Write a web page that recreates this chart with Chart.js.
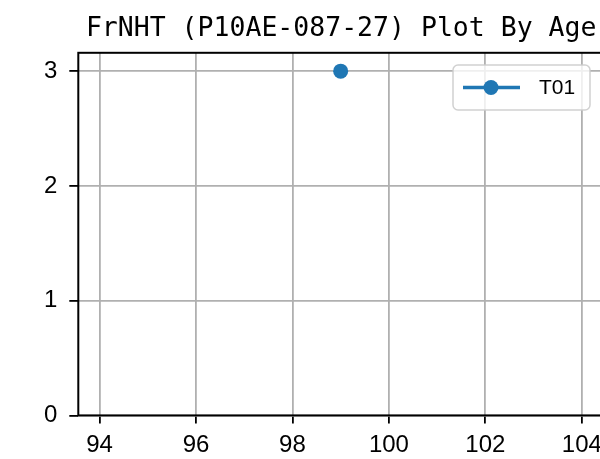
<!DOCTYPE html>
<html>
<head>
<meta charset="utf-8">
<title>FrNHT Plot By Age</title>
<script src="https://cdn.jsdelivr.net/npm/chart.js@4"></script>
<style>
  html, body { margin: 0; padding: 0; background: #fff; overflow: hidden; }
  #wrap { width: 680px; height: 459px; }
</style>
</head>
<body>
<div id="wrap"><canvas id="chart" width="680" height="459"></canvas></div>
<script>
// data
const ages = [99];
const t01Values = [3];
const seriesLabel = "T01";
const xTicks = [94, 96, 98, 100, 102, 104];
const yTicks = [0, 1, 2, 3];
const titleText = "FrNHT (P10AE-087-27) Plot By Age";

const blue = "#1f77b4";

// matplotlib-style box around the plot area
const frame = {
  id: "frame",
  afterDraw(chart) {
    const a = chart.chartArea, ctx = chart.ctx;
    ctx.save();
    ctx.strokeStyle = "#000";
    ctx.lineWidth = 2;
    ctx.strokeRect(a.left, a.top, a.right - a.left, a.bottom - a.top);
    ctx.restore();
  }
};

// legend drawn inside the axes, upper right
const innerLegend = {
  id: "innerLegend",
  afterDraw(chart) {
    const ctx = chart.ctx;
    const ds = chart.data.datasets[0];
    const x = 453, y = 65, w = 137, h = 45, r = 5;
    ctx.save();
    ctx.beginPath();
    ctx.roundRect(x, y, w, h, r);
    ctx.fillStyle = "rgba(255,255,255,0.8)";
    ctx.fill();
    ctx.strokeStyle = "rgba(204,204,204,0.9)";
    ctx.lineWidth = 1.5;
    ctx.stroke();
    const cy = y + h / 2;
    ctx.strokeStyle = ds.borderColor;
    ctx.lineWidth = ds.borderWidth;
    ctx.beginPath();
    ctx.moveTo(463, cy);
    ctx.lineTo(520, cy);
    ctx.stroke();
    ctx.fillStyle = ds.pointBackgroundColor;
    ctx.beginPath();
    ctx.arc(491, cy, ds.pointRadius, 0, Math.PI * 2);
    ctx.fill();
    ctx.fillStyle = "#000";
    ctx.font = "21px 'Liberation Sans'";
    ctx.textBaseline = "middle";
    ctx.fillText(ds.label, 539, cy + 1);
    ctx.restore();
  }
};

new Chart(document.getElementById("chart"), {
  type: "scatter",
  data: {
    datasets: [{
      label: seriesLabel,
      data: ages.map((a, i) => ({ x: a, y: t01Values[i] })),
      showLine: true,
      borderColor: blue,
      borderWidth: 3.6,
      pointBackgroundColor: blue,
      pointBorderColor: blue,
      pointRadius: 7.5,
      pointBorderWidth: 0
    }]
  },
  options: {
    responsive: false,
    animation: false,
    layout: { padding: { left: 0, right: 76, top: 0, bottom: 0 } },
    plugins: {
      legend: { display: false },
      tooltip: { enabled: false },
      title: {
        display: true,
        text: titleText,
        fullSize: false,
        color: "#000",
        font: { family: "'DejaVu Sans Mono'", size: 26.5, weight: "normal" },
        padding: { top: 13, bottom: 8 }
      }
    },
    scales: {
      x: {
        type: "linear",
        min: 93.56,
        max: 104.46,
        afterBuildTicks: s => { s.ticks = xTicks.map(v => ({ value: v })); },
        afterFit: s => { s.height = 43.6; },
        grid: { color: "#b0b0b0", lineWidth: 1.8, tickLength: 8, tickColor: "#000", tickWidth: 1.8 },
        border: { display: false },
        ticks: {
          color: "#000",
          padding: 8,
          maxRotation: 0,
          font: { family: "'Liberation Sans'", size: 24 }
        }
      },
      y: {
        min: 0,
        max: 3.16,
        afterBuildTicks: s => { s.ticks = yTicks.map(v => ({ value: v })); },
        afterFit: s => { s.width = 78.3; },
        grid: { color: "#b0b0b0", lineWidth: 1.8, tickLength: 9, tickColor: "#000", tickWidth: 1.8 },
        border: { display: false },
        ticks: {
          color: "#000",
          padding: 12,
          font: { family: "'Liberation Sans'", size: 24 }
        }
      }
    }
  },
  plugins: [frame, innerLegend]
});
</script>
</body>
</html>
